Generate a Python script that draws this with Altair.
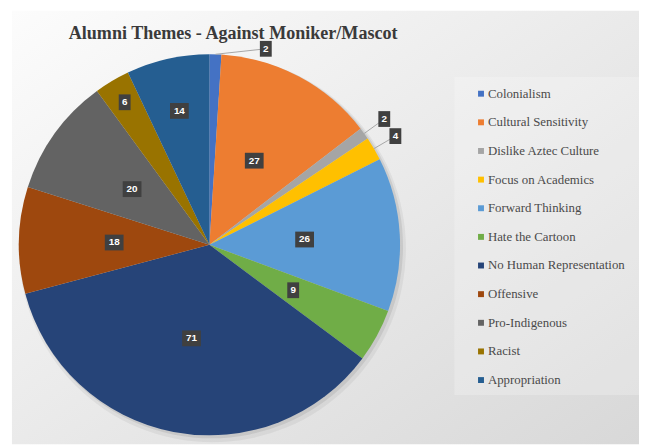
import altair as alt
import pandas as pd

TITLE = "Alumni Themes - Against Moniker/Mascot"
categories = ["Colonialism", "Cultural Sensitivity", "Dislike Aztec Culture",
              "Focus on Academics", "Forward Thinking", "Hate the Cartoon",
              "No Human Representation", "Offensive", "Pro-Indigenous",
              "Racist", "Appropriation"]
values = [2, 27, 2, 4, 26, 9, 71, 18, 20, 6, 14]
colors = ["#4472C4", "#ED7D31", "#A5A5A5", "#FFC000", "#5B9BD5", "#70AD47",
          "#264478", "#9E480E", "#636363", "#997300", "#255E91"]

W, H = 639, 439
CX, CY, R = 204, 237, 193
SERIF = "'Liberation Serif', 'Times New Roman', 'DejaVu Serif', serif"

df = pd.DataFrame({"cat": categories, "value": values, "idx": list(range(len(values)))})
one = pd.DataFrame({"a": [0]})

cscale = alt.Scale(domain=categories, range=colors)

bg = alt.Chart(one).mark_rect(
    color=alt.Gradient(gradient="linear",
                       stops=[alt.GradientStop(color="#fcfcfc", offset=0),
                              alt.GradientStop(color="#d8d8d8", offset=1)],
                       x1=0, y1=0, x2=1, y2=1)
).encode(x=alt.value(4), x2=alt.value(W), y=alt.value(0), y2=alt.value(H))

legend_bg = alt.Chart(one).mark_rect(color="#ffffff", opacity=0.22).encode(
    x=alt.value(452), x2=alt.value(W), y=alt.value(67), y2=alt.value(389))

title = alt.Chart(one).mark_text(
    text=TITLE, font=SERIF, fontWeight="bold", fontSize=18.3,
    color="#3a3a3a", align="center", baseline="alphabetic"
).encode(x=alt.value(228), y=alt.value(29))

shadow1 = alt.Chart(one).mark_arc(theta=0, theta2=6.2832, radius=196, color="#000000", opacity=0.05).encode(
    x=alt.value(CX + 3), y=alt.value(CY + 4))
shadow2 = alt.Chart(one).mark_arc(theta=0, theta2=6.2832, radius=194, color="#000000", opacity=0.08).encode(
    x=alt.value(CX + 2), y=alt.value(CY + 2))

pie = alt.Chart(df).mark_arc(outerRadius=R, strokeWidth=0).encode(
    theta=alt.Theta("value:Q", stack=True),
    color=alt.Color("cat:N", scale=cscale, legend=None),
    order=alt.Order("idx:Q"),
    x=alt.value(CX), y=alt.value(CY),
)

base = alt.Chart(df).transform_window(
    cum="sum(value)", sort=[alt.SortField("idx")], frame=[None, 0]
).transform_joinaggregate(total="sum(value)").transform_calculate(
    mid="(datum.cum - datum.value/2)/datum.total*2*PI"
).transform_calculate(
    ang="datum.value < 5 ? max(datum.mid, 0.28) : datum.mid",
    r="datum.value < 5 ? (datum.mid < 0.28 ? 1.07 : 1.13) : (datum.value < 9 ? 0.87 : ((datum.value >= 10 && datum.value < 15) ? 0.72 : 0.5))",
).transform_calculate(
    lx="datum.r*sin(datum.ang)", ly="-datum.r*cos(datum.ang)",
    ex="sin(datum.mid)", ey="-cos(datum.mid)",
    two="length(toString(datum.value)) > 1",
)

xs = alt.Scale(domain=[-1, 1], range=[CX - R, CX + R])
ys = alt.Scale(domain=[-1, 1], range=[CY - R, CY + R])

leaders = base.transform_filter("datum.value < 5").mark_rule(color="#a6a6a6", strokeWidth=1).encode(
    x=alt.X("ex:Q", scale=xs, axis=None), y=alt.Y("ey:Q", scale=ys, axis=None),
    x2="lx:Q", y2="ly:Q")

box2 = base.transform_filter("datum.two").mark_point(
    shape="M-1,-0.842H1V0.842H-1Z", size=361, filled=True, color="#404040", opacity=1
).encode(x=alt.X("lx:Q", scale=xs, axis=None), y=alt.Y("ly:Q", scale=ys, axis=None))
box1 = base.transform_filter("!datum.two").mark_point(
    shape="M-0.632,-0.842H0.632V0.842H-0.632Z", size=361, filled=True, color="#404040", opacity=1
).encode(x=alt.X("lx:Q", scale=xs, axis=None), y=alt.Y("ly:Q", scale=ys, axis=None))

labels = base.mark_text(font="Liberation Sans", fontWeight="bold", fontSize=10,
                        color="#ffffff", align="center", baseline="middle").encode(
    x=alt.X("lx:Q", scale=xs, axis=None), y=alt.Y("ly:Q", scale=ys, axis=None),
    text="value:Q")

ls = alt.Scale(type="point", domain=categories, range=[84, 374], padding=0)
leg_sym = alt.Chart(df).mark_square(size=36, opacity=1).encode(
    x=alt.value(479), y=alt.Y("cat:N", scale=ls, axis=None),
    color=alt.Color("cat:N", scale=cscale, legend=None))
leg_txt = alt.Chart(df).mark_text(font=SERIF, fontSize=13, color="#4a4a4a",
                                   align="left", baseline="middle").encode(
    x=alt.value(486), y=alt.Y("cat:N", scale=ls, axis=None), text="cat:N")

chart = alt.layer(bg, legend_bg, title, shadow1, shadow2, pie, leaders, box2, box1, labels,
                  leg_sym, leg_txt).resolve_scale(y="independent", x="independent").properties(
    width=W, height=H, autosize=alt.AutoSizeParams(type="none"), padding=0
).configure_view(stroke=None)

chart.save("out.html", embed_options={"renderer": "svg", "actions": False})
